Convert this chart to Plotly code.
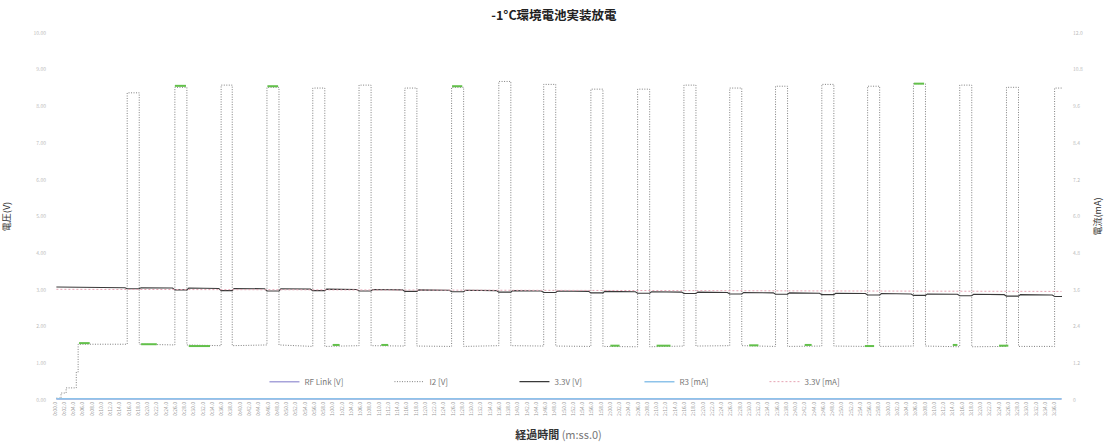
import plotly.graph_objects as go

TITLE = "-1°C環境電池実装放電"
Y_LEFT_TITLE = "電圧(V)"
Y_RIGHT_TITLE = "電流(mA)"
X_TITLE = "<b>経過時間</b> <span style='color:#777'>(m:ss.0)</span>"

SERIES_NAMES = ["RF Link [V]", "I2 [V]", "3.3V [V]", "R3 [mA]", "3.3V [mA]"]

# start-up ramp of I2 [V] (time s, value V)
startup_t = [0.3, 1.3, 1.3, 2.4, 2.4, 4.6, 4.6, 5.0, 5.0]
startup_v = [0.05, 0.05, 0.19, 0.19, 0.33, 0.33, 0.76, 0.76, 1.52]

# square-wave pulses of I2 [V]
pulse_start = [15.6, 25.9, 35.9, 45.8, 55.7, 65.7, 75.6, 85.7, 95.9, 105.6, 115.8,
               125.9, 135.9, 145.8, 155.7, 165.7, 175.6, 185.5, 195.5, 205.6, 216.0]
pulse_end = [18.2, 28.5, 38.3, 48.4, 58.3, 68.3, 78.2, 88.3, 98.5, 108.2, 118.4,
             128.5, 138.5, 148.4, 158.3, 168.3, 178.2, 188.1, 198.1, 208.2, 217.6]
pulse_high = [8.37, 8.52, 8.58, 8.52, 8.50, 8.58, 8.50, 8.52, 8.68, 8.60, 8.47,
              8.47, 8.58, 8.50, 8.55, 8.60, 8.55, 8.62, 8.58, 8.52, 8.50]
low_before = [1.52, 1.50, 1.48, 1.50, 1.46, 1.48, 1.47, 1.46, 1.48, 1.47, 1.46,
              1.45, 1.47, 1.48, 1.46, 1.47, 1.46, 1.47, 1.45, 1.46, 1.46]

# battery voltage line 3.3V [V]: level at each pulse and dip during pulse
batt_start = [0.3, 3.08]
batt_level = [3.06, 3.05, 3.04, 3.03, 3.02, 3.01, 3.00, 2.99, 2.98, 2.97, 2.96,
              2.95, 2.94, 2.93, 2.92, 2.91, 2.90, 2.89, 2.88, 2.87, 2.86]
batt_dip = [0.03, 0.05, 0.06, 0.06, 0.04, 0.04, 0.04, 0.04, 0.04, 0.04, 0.04,
            0.04, 0.04, 0.04, 0.04, 0.04, 0.04, 0.04, 0.04, 0.04, 0.04]

# current lines (mA)
r3_t = [0.3, 217.5]
r3_v = [0.04, 0.04]
i33_t = [0.3, 60.0, 120.0, 217.5]
i33_v = [3.62, 3.60, 3.57, 3.55]
rf_t = [0.3, 217.5]
rf_v = [0.03, 0.03]

# green overlay segments on I2 (start, end, level)
green_t0 = [5.2, 18.6, 28.9, 45.9, 25.9, 60.0, 70.5, 85.8, 120.0, 130.0, 150.0, 162.0, 175.0, 185.6, 194.0, 204.0]
green_t1 = [7.5, 22.0, 33.5, 48.2, 28.3, 61.5, 72.0, 88.0, 122.0, 133.0, 152.0, 163.5, 177.0, 187.8, 195.0, 206.0]
green_v = [1.55, 1.52, 1.47, 8.55, 8.56, 1.50, 1.50, 8.55, 1.48, 1.48, 1.49, 1.50, 1.47, 8.62, 1.50, 1.48]

# x tick labels every 2 s
tick_secs = list(range(0, 218, 2))
tick_text = [f"{s // 60}:{s % 60:02d}.0" for s in tick_secs]

left_tickvals = [0, 1, 2, 3, 4, 5, 6, 7, 8, 9, 10]
left_ticktext = ["0.00", "1.00", "2.00", "3.00", "4.00", "5.00", "6.00", "7.00", "8.00", "9.00", "10.00"]
right_tickvals = [0, 1.2, 2.4, 3.6, 4.8, 6.0, 7.2, 8.4, 9.6, 10.8, 12.0]
right_ticktext = ["0", "1.2", "2.4", "3.6", "4.8", "6.0", "7.2", "8.4", "9.6", "10.8", "12.0"]

# ---- build step waveform ----
i2_x = list(startup_t)
i2_y = list(startup_v)
for s, e, h, lo in zip(pulse_start, pulse_end, pulse_high, low_before):
    i2_x += [s, s, e, e]
    i2_y += [lo, h, h, lo if e < 217.5 else h]

bx = [batt_start[0]]
by = [batt_start[1]]
for s, e, lv, d in zip(pulse_start, pulse_end, batt_level, batt_dip):
    bx += [s - 0.5, s, e, e + 0.4]
    by += [lv, lv - d, lv - d, lv]

gx, gy = [], []
for a, b, v in zip(green_t0, green_t1, green_v):
    gx += [a, b, None]
    gy += [v, v, None]

fig = go.Figure()
fig.add_trace(go.Scatter(x=rf_t, y=rf_v, name=SERIES_NAMES[0], mode="lines",
                         line=dict(color="#a7a3da", width=1.5), legendrank=1))
fig.add_trace(go.Scatter(x=i2_x, y=i2_y, name=SERIES_NAMES[1], mode="lines",
                         line=dict(color="#7f7f7f", width=1, dash="1px,1.5px"), legendrank=2))
fig.add_trace(go.Scatter(x=gx, y=gy, showlegend=False, mode="lines",
                         line=dict(color="#62c04a", width=2), hoverinfo="skip"))
fig.add_trace(go.Scatter(x=i33_t, y=i33_v, name=SERIES_NAMES[4], mode="lines", yaxis="y2",
                         line=dict(color="#e6a3b3", width=1, dash="2px,2px"), legendrank=5))
fig.add_trace(go.Scatter(x=bx, y=by, name=SERIES_NAMES[2], mode="lines",
                         line=dict(color="#3a3a3a", width=1.1), legendrank=3))
fig.add_trace(go.Scatter(x=r3_t, y=r3_v, name=SERIES_NAMES[3], mode="lines", yaxis="y2",
                         line=dict(color="#8ec3ea", width=1.5), legendrank=4))

fig.update_layout(
    width=1108, height=448,
    margin=dict(l=55, r=46, t=33, b=48, autoexpand=False),
    paper_bgcolor="white", plot_bgcolor="white",
    font=dict(family="Noto Sans CJK JP", color="#333"),
    title=dict(text="<b>" + TITLE + "</b>", x=0.5, xanchor="center", y=0.975, yanchor="top",
               font=dict(size=12.5, color="#222")),
    showlegend=True,
    legend=dict(orientation="h", x=0.208, xanchor="left", y=0.05, yanchor="middle",
                font=dict(size=8, color="#777"), bgcolor="rgba(0,0,0,0)",
                entrywidth=80, traceorder="normal"),
    xaxis=dict(range=[0, 217.6], tickvals=tick_secs, ticktext=tick_text, tickangle=-90,
               tickfont=dict(size=5, color="#999"), showgrid=False, zeroline=False,
               showline=False, ticks="", automargin=False,
               title=dict(text=X_TITLE, font=dict(size=11, color="#333"), standoff=16)),
    yaxis=dict(range=[0, 10], tickvals=left_tickvals, ticktext=left_ticktext,
               tickfont=dict(size=5, color="#bbb"), showgrid=False, zeroline=False,
               showline=False, ticks="", ticklabelstandoff=8, automargin=False,
               title=dict(text=Y_LEFT_TITLE, font=dict(size=9, color="#333"), standoff=24)),
    yaxis2=dict(range=[0, 12], tickvals=right_tickvals, ticktext=right_ticktext,
                overlaying="y", side="right", automargin=False,
                tickfont=dict(size=5, color="#bbb"), showgrid=False, zeroline=False,
                showline=False, ticks="", ticklabelstandoff=10,
                title=dict(text=Y_RIGHT_TITLE, font=dict(size=9, color="#333"), standoff=12)),
)

fig.write_html("out.html")
